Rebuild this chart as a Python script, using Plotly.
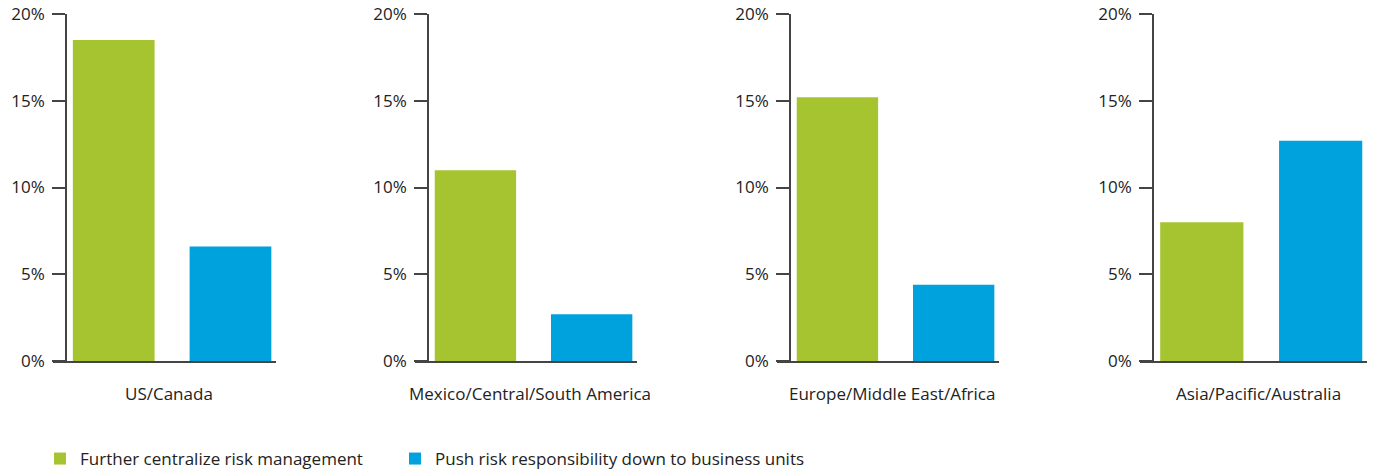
import plotly.graph_objects as go

# Share of respondents by region
regions = ["US/Canada", "Mexico/Central/South America",
           "Europe/Middle East/Africa", "Asia/Pacific/Australia"]
series_names = ["Further centralize risk management",
                "Push risk responsibility down to business units"]
centralize = [18.5, 11.0, 15.2, 8.0]
push_down = [6.6, 2.7, 4.4, 12.7]
y_ticks = [0, 5, 10, 15, 20]
y_tick_text = ["0%", "5%", "10%", "15%", "20%"]

colors = ["#a5c42f", "#00a2dd"]
W, H = 1378, 473
FONT = "Open Sans"
TEXT = "#222222"
LINE = "#444444"

# pixel layout of each panel: x-axis start, x-axis end, y-axis line position
panels = [(53, 276, 66), (415, 637, 428), (777, 999, 790), (1140, 1367, 1153)]
y_bottom, y_top = 361, 14
legend_x = [40, 395]   # left edge of each legend, px
legend_y = 459         # vertical centre of the legend row, px

fig = go.Figure()
layout = {}
for i, (region, (x0, x1, ypos)) in enumerate(zip(regions, panels)):
    n = "" if i == 0 else str(i + 1)
    for j, (name, vals) in enumerate(zip(series_names, [centralize, push_down])):
        fig.add_trace(go.Bar(
            x=[name], y=[vals[i]], name=name,
            marker=dict(color=colors[j], line=dict(width=0)),
            width=0.70, legendgroup=name, showlegend=(i == 0),
            legend="legend" if j == 0 else "legend2",
            xaxis="x" + n, yaxis="y" + n, hoverinfo="skip",
        ))
    layout["xaxis" + n] = dict(
        domain=[x0 / W, x1 / W], anchor="y" + n,
        type="category", categoryorder="array", categoryarray=series_names,
        range=[-0.52, 1.39], showticklabels=False, ticks="",
        showgrid=False, zeroline=False, automargin=False,
        showline=True, linecolor=LINE, linewidth=1.5, fixedrange=True,
    )
    layout["yaxis" + n] = dict(
        domain=[1 - y_bottom / H, 1 - y_top / H], anchor="free",
        position=ypos / W, range=[0, 20],
        tickvals=y_ticks, ticktext=y_tick_text,
        ticks="outside", ticklen=13, tickwidth=1.5, tickcolor=LINE,
        showline=True, linecolor=LINE, linewidth=1.5, automargin=False,
        showgrid=False, zeroline=False, ticklabelstandoff=4,
        tickfont=dict(family=FONT, size=17, color=TEXT), fixedrange=True,
    )
    fig.add_annotation(
        text=region, xref="x" + n + " domain", yref="paper",
        x=0.52, y=1 - 393 / H, xanchor="center", yanchor="middle",
        showarrow=False, font=dict(family=FONT, size=17, color=TEXT),
    )

legend_common = dict(
    orientation="h", y=1 - legend_y / H,
    xanchor="left", yanchor="middle",
    font=dict(family=FONT, size=17, color=TEXT),
    bgcolor="rgba(0,0,0,0)", itemclick=False, itemdoubleclick=False,
)

fig.update_layout(
    **layout,
    width=W, height=H,
    margin=dict(l=0, r=0, t=0, b=0, autoexpand=False),
    paper_bgcolor="white", plot_bgcolor="white",
    barmode="overlay",
    showlegend=True,
    legend=dict(x=legend_x[0] / W, **legend_common),
    legend2=dict(x=legend_x[1] / W, **legend_common),
    font=dict(family=FONT, color=TEXT),
)

fig.write_html("out.html")
